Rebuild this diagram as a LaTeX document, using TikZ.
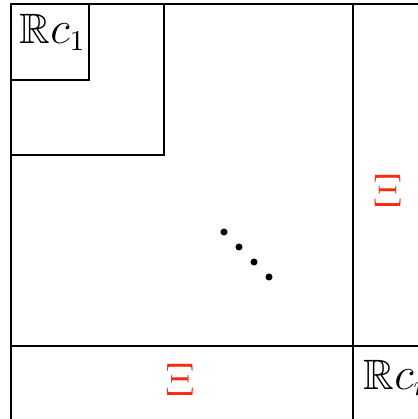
\documentclass[tikz,border=0pt]{standalone}
\usepackage{amsmath,amssymb}
\usetikzlibrary{positioning}
\usepackage{xcolor}
\definecolor{blockred}{RGB}{250,40,15}

\begin{document}
\begin{tikzpicture}[
    x=0.011cm, y=-0.011cm,
    grid/.style={line width=0.6pt, black},
    label/.style={inner sep=0pt, font=\fontsize{13.3pt}{16pt}\selectfont},
    offdiag/.style={inner sep=0pt, text=blockred, font=\fontsize{13.3pt}{16pt}\selectfont},
    dot/.style={circle, fill=black, inner sep=0pt, minimum size=2.2pt}
]
    \useasboundingbox (0,0) rectangle (417,419);
    % outer grid
    \draw[grid] (11,440) -- (11,4) -- (440,4);
    \draw[grid] (353,4) -- (353,440);
    \draw[grid] (11,346) -- (440,346);
    % nested blocks
    \draw[grid] (11,80) -- (89,80) -- (89,4);
    \draw[grid] (11,155) -- (164,155) -- (164,4);
    % labels
    \node[label, anchor=base west] (rc1) at (19,44) {$\mathbb{R}c_1$};
    \node[label, anchor=base west] (rcn) at (363,389) {$\mathbb{R}c_n$};
    \node[offdiag] (xiright) at (387.5,190.5) {$\Xi$};
    \node[offdiag] (xibottom) at (180,380) {$\Xi$};
    % diagonal dots
    \foreach \i in {0,...,3}
        \node[dot] (d\i) at (224+15*\i,232+15*\i) {};
\end{tikzpicture}
\end{document}
